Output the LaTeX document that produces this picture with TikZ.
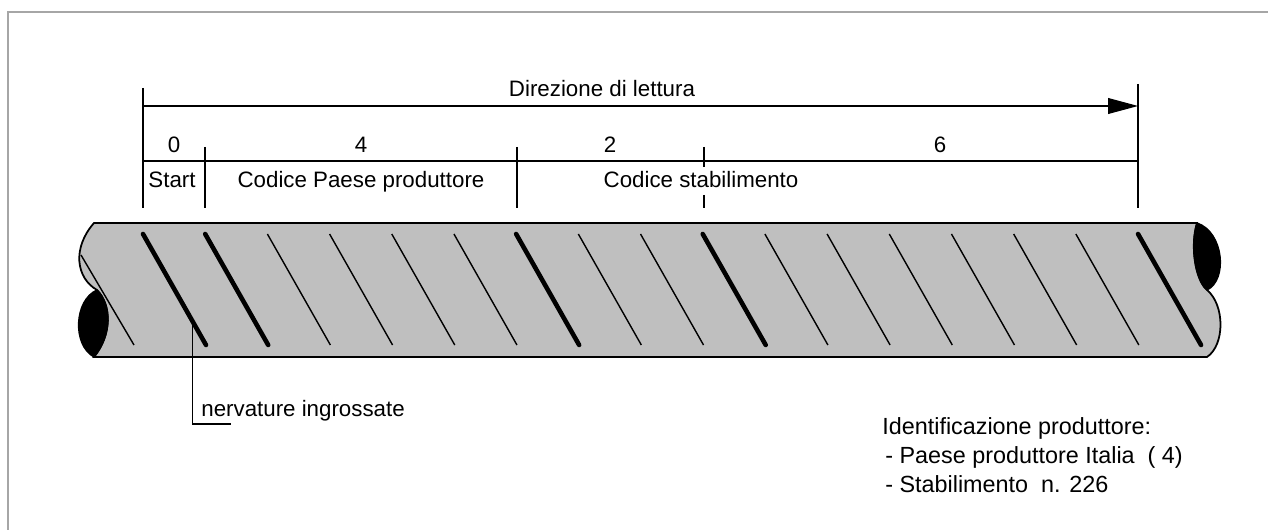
\documentclass[tikz,border=0pt]{standalone}
\usepackage{fontspec}
\setmainfont{Liberation Sans}
\usetikzlibrary{arrows.meta}

\begin{document}
\begin{tikzpicture}[x=0.02cm,y=-0.02cm,
  dimline/.style={line width=0.6pt},
  txt/.style={font=\fontsize{12.7}{15}\selectfont, inner sep=0pt, anchor=base},
  note/.style={font=\fontsize{13.3}{16}\selectfont, inner sep=0pt, anchor=base west},
  bar/.style={fill=gray!50, draw=black, line width=1pt},
  lens/.style={fill=black, draw=black, line width=0.8pt},
  ribthin/.style={line width=0.8pt},
  ribthick/.style={line width=2.6pt, line cap=round}]
  \useasboundingbox (0,0) rectangle (1268,530);
  \draw[gray!70, line width=1pt] (8,530) -- (8,12) -- (1268,12);

  \filldraw[bar] (94,223) -- (1197,223)
    .. controls (1190,245) and (1195,280) .. (1207,290)
    .. controls (1225,305) and (1225,345) .. (1207,357)
    -- (94,357)
    .. controls (112,335) and (112,305) .. (97,290)
    .. controls (76,278) and (72,248) .. (94,223) -- cycle;
  \filldraw[lens] (94,357) .. controls (112,335) and (112,305) .. (97,290)
    .. controls (74,300) and (72,345) .. (94,357) -- cycle;
  \filldraw[lens] (1197,223) .. controls (1190,245) and (1195,280) .. (1207,290)
    .. controls (1228,280) and (1224,232) .. (1197,223) -- cycle;
  \draw[ribthin] (81,255) -- (134,345);
  \foreach \i in {2,3,4,5,7,8,10,11,12,13,14,15}
    \draw[ribthin] ({143+62.19*\i},234) -- ++(63,111);
  \foreach \i in {0,1,6,9,16}
    \draw[ribthick] ({143+62.19*\i},234) -- ++(63,111);

  \coordinate (dirstart) at (143,106);
  \coordinate (dirend) at (1138,106);
  \draw[dimline, -{Triangle[length=17pt,width=9pt]}] (dirstart) -- (dirend);
  \draw[dimline] (143,88) -- (143,208);
  \draw[dimline] (1138,84) -- (1138,208);
  \draw[dimline] (205,147) -- (205,208);
  \draw[dimline] (517,147) -- (517,208);
  \draw[dimline] (704,147) -- (704,167);
  \draw[dimline] (704,195) -- (704,208);
  \draw[dimline] (143,161) -- (1138,161);

  \node[txt] (dir) at (602,97) {Direzione di lettura};
  \node[txt] (d0) at (174,153) {0};
  \node[txt] (d4) at (361,153) {4};
  \node[txt] (d2) at (610,153) {2};
  \node[txt] (d6) at (940,153) {6};
  \node[txt] (start) at (172,188) {Start};
  \node[txt] (paese) at (361,188) {Codice Paese produttore};
  \node[txt] (stab) at (701,188) {Codice stabilimento};

  \path (143,234) -- (206,345) coordinate[pos=0.78] (lead);
  \coordinate (leadend) at (231,424);
  \draw[dimline] (lead) |- (leadend);
  \node[note, font=\fontsize{12.7}{15}\selectfont] (nerv) at (201,416) {nervature ingrossate};

  \node[note] (ident) at (882,434) {Identificazione produttore:};
  \node[note] (italia) at (885,463) {- Paese produttore Italia~~( 4)};
  \node[note] (n226) at (885,492) {- Stabilimento~~n. 226};
\end{tikzpicture}
\end{document}
